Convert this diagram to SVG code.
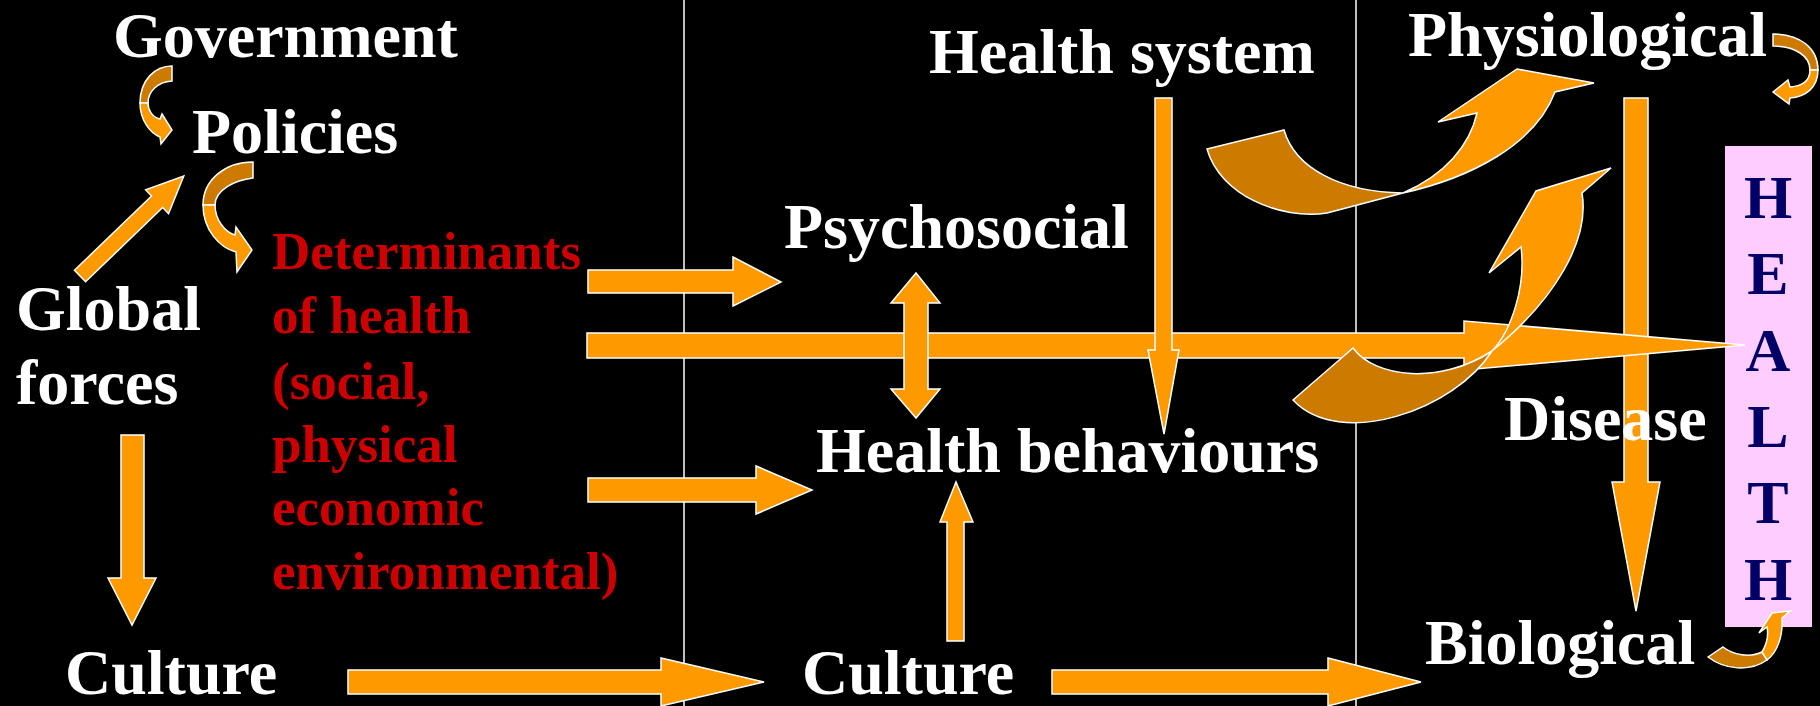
<svg xmlns="http://www.w3.org/2000/svg" width="1820" height="706" viewBox="0 0 1820 706">
<style>
.a{fill:#FF9900;stroke:#FFFFFF;stroke-width:1.5;stroke-linejoin:miter}
.d{fill:#CC7A00;stroke:#FFFFFF;stroke-width:1.5;stroke-linejoin:miter}
.w{font-family:"Liberation Serif","Times New Roman",serif;font-weight:bold;font-size:64px;fill:#FFFFFF}
.r{font-family:"Liberation Serif","Times New Roman",serif;font-weight:bold;font-size:53px;fill:#CC0000}
.h{font-family:"Liberation Serif","Times New Roman",serif;font-weight:bold;font-size:62px;fill:#000066;text-anchor:middle}
.sep{stroke:#FFFFFF;stroke-width:1.5}
</style>
<rect x="0" y="0" width="1820" height="706" fill="#000000"/>
<g id="separators">
<line class="sep" x1="684" y1="0" x2="684" y2="706"/>
<line class="sep" x1="1356" y1="0" x2="1356" y2="706"/>
</g>
<g id="health-box">
<rect x="1725" y="146" width="87" height="481" fill="#FFCCFF"/>
<text class="h" x="1768" y="218">H</text>
<text class="h" x="1768" y="294">E</text>
<text class="h" x="1768" y="371">A</text>
<text class="h" x="1768" y="447">L</text>
<text class="h" x="1768" y="523">T</text>
<text class="h" x="1768" y="600">H</text>
</g>
<g id="connectors">
<path class="d" d="M172,66 L172,81 C157,82 148,92 148,103 L140,103 C140,80 155,66 172,66 Z"/>
<path class="a" d="M140,103 C140,120 150,133 160,137 L161,144 L172,130 L162,114 L160,119 C152,117 148,110 148,103 Z"/>
<path class="d" d="M253,162 L253,178 C235,180 215,190 215,205 L203,205 C203,180 225,162 253,162 Z"/>
<path class="a" d="M203,205 C203,230 220,248 236,252 L237,272 L252,250 L236,227 L235,235 C225,232 215,220 215,205 Z"/>
<polygon class="a" points="0,-8 107,-8 107,-16.5 144,0 107,16.5 107,8 0,8" transform="translate(80,276) rotate(-43.9)"/>
<polygon class="a" points="121,435 144,435 144,578 156,578 132,625 108,578 121,578"/>
<polygon class="a" points="588,270 733,270 733,257 781,282 733,306 733,293 588,293"/>
<polygon class="a" points="1624,98 1648,98 1648,482 1660,482 1636,611 1612,482 1624,482"/>
<polygon class="a" points="587,333 1464,333 1464,321 1745,345 1464,370 1464,358 587,358"/>
<polygon class="a" points="588,478 756,478 756,466 812,490 756,514 756,502 588,502"/>
<polygon class="a" points="348,670 661,670 661,658 764,682 661,706 661,694 348,694"/>
<polygon class="a" points="1052,670 1328,670 1328,658 1421,682 1328,706 1328,694 1052,694"/>
<polygon class="a" points="947,641 947,522 940,522 956,482 973,522 964,522 964,641"/>
<polygon class="a" points="904,303 891,303 916,273 940,303 928,303 928,389 940,389 916,418 891,389 904,389"/>
<polygon class="a" points="1155,98 1172,98 1172,350 1179,350 1164,434 1148,350 1155,350"/>
<path class="d" d="M1207,149 L1284,130 C1295,168 1340,192 1403,193 L1327,213 C1280,220 1220,195 1207,149 Z"/>
<path class="a" d="M1403,193 C1470,178 1535,145 1555,92 L1594,83 L1517,69 L1438,122 L1477,113 C1470,145 1445,175 1403,193 Z"/>
<path class="d" d="M1353,348 C1375,378 1440,385 1492,351 C1455,410 1340,450 1293,400 Z"/>
<path class="a" d="M1492,351 C1512,330 1526,285 1521,247 L1489,273 L1536,191 L1611,168 L1582,193 C1590,240 1555,300 1492,351 Z"/>
<path class="d" d="M1773,34 C1800,34 1818,48 1818,70 L1810,70 C1810,56 1795,46 1773,46 Z"/>
<path class="a" d="M1818,70 C1818,88 1805,97 1790,98 L1789,104 L1773,92 L1788,80 L1790,87 C1803,86 1810,80 1810,70 Z"/>
<path class="d" d="M1708,657 L1723,647 C1733,655 1750,658 1762,652 L1767,660 C1750,672 1725,670 1708,657 Z"/>
<path class="a" d="M1762,652 C1768,642 1768,632 1767,627 L1759,633 L1772,613 L1790,611 L1782,618 C1783,635 1778,652 1767,660 Z"/>
</g>
<g id="government"><text class="w" x="113" y="57">Government</text></g>
<g id="policies"><text class="w" x="192" y="153">Policies</text></g>
<g id="global-forces"><text class="w" x="16" y="330">Global</text><text class="w" x="16" y="404">forces</text></g>
<g id="culture-left"><text class="w" x="65" y="694">Culture</text></g>
<g id="determinants">
<text class="r" x="272" y="269">Determinants</text>
<text class="r" x="272" y="333">of health</text>
<text class="r" x="272" y="399">(social,</text>
<text class="r" x="272" y="462">physical</text>
<text class="r" x="272" y="525">economic</text>
<text class="r" x="272" y="589">environmental)</text>
</g>
<g id="health-system"><text class="w" x="929" y="73">Health system</text></g>
<g id="psychosocial"><text class="w" x="784" y="248">Psychosocial</text></g>
<g id="health-behaviours"><text class="w" x="816" y="472">Health behaviours</text></g>
<g id="culture-mid"><text class="w" x="802" y="694">Culture</text></g>
<g id="physiological"><text class="w" x="1408" y="56">Physiological</text></g>
<g id="disease"><text class="w" x="1504" y="440">Disease</text></g>
<g id="biological"><text class="w" x="1425" y="664">Biological</text></g>
</svg>
